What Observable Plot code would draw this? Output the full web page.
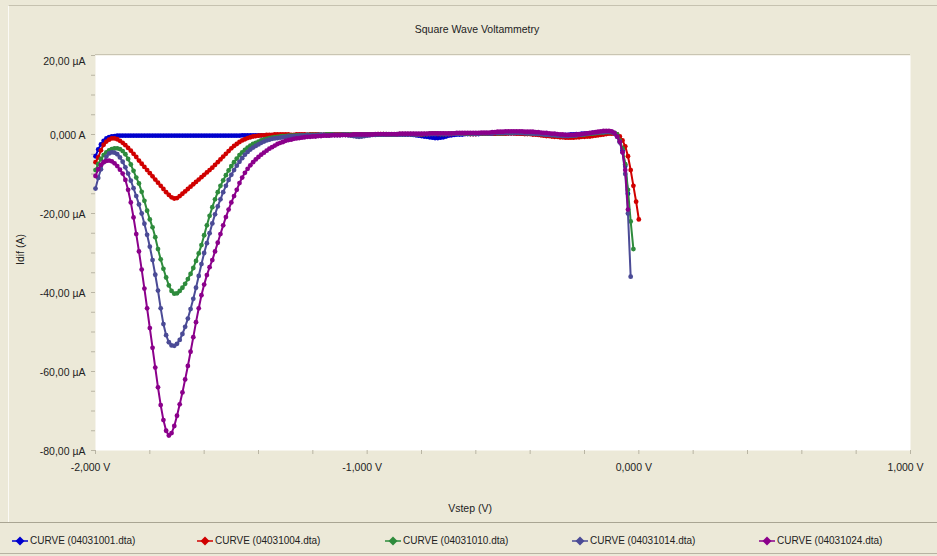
<!DOCTYPE html>
<html>
<head>
<meta charset="utf-8">
<script src="https://cdn.jsdelivr.net/npm/d3@7"></script>
<script src="https://cdn.jsdelivr.net/npm/@observablehq/plot@0.6"></script>
<style>
  html, body { margin: 0; padding: 0; background: #ECE9D8; }
  #page { position: relative; width: 937px; height: 556px; overflow: hidden; background: #ECE9D8;
          font-family: "Liberation Sans", Arial, sans-serif; color: #222; }
  #panel { position: absolute; left: 8px; top: 5px; width: 929px; height: 518px;
           border-top: 1px solid #C6C2B0; border-left: 1px solid #FBFAF5; box-sizing: border-box; }
  #title { position: absolute; left: 17px; top: 23px; width: 920px; text-align: center;
           font-size: 10.5px; line-height: 12px; }
  #chart { position: absolute; left: 0; top: 40px; }
  #legend { position: absolute; left: 0; top: 522px; width: 937px; height: 32px;
            border-top: 1px solid #A9A593; border-bottom: 1px solid #B7B3A2; box-sizing: border-box;
            font-size: 10px; }
  .item { position: absolute; top: 12px; height: 12px; line-height: 12px; white-space: nowrap; }
  .item svg { position: absolute; left: 0; top: 1px; }
  .item span { position: absolute; left: 18px; top: 0; }
</style>
</head>
<body>
<div id="page">
  <div id="panel"></div>
  <div id="title">Square Wave Voltammetry</div>
  <div id="chart"></div>
  <div id="legend"></div>
</div>
<script>
// Curves of the square wave voltammetry run (file names as stored by the potentiostat)
const curveNames = [
  "CURVE (04031001.dta)",
  "CURVE (04031004.dta)",
  "CURVE (04031010.dta)",
  "CURVE (04031014.dta)",
  "CURVE (04031024.dta)"
];
const curveColors = ["#0000CD", "#D00000", "#2E8B3C", "#4B4B96", "#8B008B"];

// Potential sweep: first step and step height, in volts
const vStart = -2.0;
const vStep = 0.01;

// Differential current per step, in µA (one row = 0.1 V)
const iBlue = [
  -5.5, -3.8, -2.5, -1.6, -1.0, -0.7, -0.5, -0.4, -0.3, -0.3,
  -0.3, -0.3, -0.3, -0.3, -0.3, -0.3, -0.3, -0.3, -0.3, -0.3,
  -0.3, -0.3, -0.3, -0.3, -0.3, -0.3, -0.3, -0.3, -0.3, -0.3,
  -0.3, -0.3, -0.3, -0.3, -0.3, -0.3, -0.3, -0.3, -0.3, -0.3,
  -0.3, -0.3, -0.3, -0.3, -0.3, -0.3, -0.3, -0.3, -0.3, -0.3,
  -0.3, -0.3, -0.3, -0.3, -0.2, -0.2, -0.2, -0.2, -0.2, -0.2,
  -0.2, -0.2, -0.2, -0.2, -0.2, -0.2, -0.2, -0.2, -0.2, -0.2,
  -0.2, -0.2, -0.2, -0.2, -0.1, -0.1, -0.1, -0.1, -0.1, -0.1,
  -0.1, -0.1, -0.1, -0.1, -0.1, -0.1, -0.1, -0.1, -0.1, -0.1,
  -0.1, -0.1, -0.1, -0.1, -0.1, -0.2, -0.2, -0.1, -0.1, -0.1,
  -0.1, -0.1, 0.0, 0.0, 0.0, 0.0, 0.0, 0.0, 0.0, 0.0,
  0.0, 0.0, 0.0, 0.0, 0.0, 0.0, 0.0, -0.1, -0.2, -0.3,
  -0.4, -0.5, -0.6, -0.7, -0.8, -0.9, -0.9, -0.8, -0.7, -0.5,
  -0.3, -0.2, -0.1, 0.0, 0.0, 0.0, 0.1, 0.1, 0.1, 0.1,
  0.1, 0.1, 0.2, 0.2, 0.2, 0.2, 0.2, 0.2, 0.3, 0.3,
  0.3, 0.3, 0.3, 0.3, 0.3, 0.3, 0.3, 0.2, 0.2, 0.2,
  0.2, 0.1, 0.1, 0.0, 0.0, -0.1, -0.1, -0.2, -0.2, -0.2,
  -0.2, -0.2, -0.2, -0.1, -0.1, 0.0, 0.0, 0.1, 0.1, 0.2,
  0.2, 0.3, 0.3, 0.4, 0.4, 0.5, 0.5, 0.5, 0.6, 0.6,
  0.5, 0.3, -0.4, -1.8, -4.0, -8.0, -15.0
];
const iRed = [
  -7.0, -5.8, -4.0, -2.6, -1.8, -1.3, -1.0, -1.0, -1.2, -1.6,
  -2.1, -2.7, -3.4, -4.1, -4.9, -5.7, -6.6, -7.4, -8.2, -9.0,
  -9.8, -10.6, -11.4, -12.2, -13.0, -13.8, -14.6, -15.3, -15.9, -16.2,
  -16.1, -15.6, -15.0, -14.4, -13.8, -13.2, -12.6, -12.0, -11.4, -10.8,
  -10.2, -9.6, -9.0, -8.4, -7.7, -7.0, -6.3, -5.6, -4.9, -4.2,
  -3.5, -2.9, -2.4, -1.9, -1.5, -1.2, -0.9, -0.7, -0.5, -0.4,
  -0.3, -0.2, -0.2, -0.1, -0.1, -0.1, 0.0, 0.0, 0.0, 0.0,
  0.0, 0.0, -0.1, -0.1, 0.0, 0.0, 0.0, 0.0, -0.1, 0.0,
  0.0, 0.0, 0.0, -0.1, -0.1, 0.0, 0.0, 0.0, 0.0, 0.0,
  0.0, 0.0, -0.1, -0.1, -0.1, 0.0, 0.0, 0.0, 0.0, 0.0,
  0.0, 0.0, 0.0, 0.0, 0.1, 0.1, 0.1, 0.0, 0.0, 0.0,
  0.0, 0.0, 0.1, 0.1, 0.1, 0.1, 0.1, 0.1, 0.0, 0.0,
  0.0, 0.1, 0.1, 0.1, 0.2, 0.2, 0.1, 0.1, 0.1, 0.1,
  0.1, 0.1, 0.2, 0.2, 0.2, 0.2, 0.2, 0.2, 0.1, 0.1,
  0.1, 0.2, 0.2, 0.2, 0.2, 0.3, 0.3, 0.2, 0.2, 0.2,
  0.2, 0.2, 0.3, 0.3, 0.3, 0.2, 0.2, 0.2, 0.1, 0.1,
  0.1, 0.0, 0.0, -0.1, -0.2, -0.3, -0.4, -0.4, -0.5, -0.6,
  -0.6, -0.7, -0.7, -0.8, -0.8, -0.8, -0.8, -0.7, -0.7, -0.6,
  -0.6, -0.5, -0.5, -0.4, -0.3, -0.2, -0.1, 0.0, 0.1, 0.2,
  0.2, 0.2, 0.0, -0.5, -1.5, -3.0, -5.5, -9.0, -13.0, -17.0,
  -21.5
];
const iGreen = [
  -9.0, -7.5, -6.2, -5.2, -4.5, -4.0, -3.7, -3.5, -3.5, -3.7,
  -4.2, -5.0, -6.2, -7.6, -9.2, -10.9, -12.4, -14.5, -16.8, -19.3,
  -21.5, -23.5, -26.0, -29.0, -31.6, -34.0, -36.2, -38.2, -39.6, -40.3,
  -40.2, -39.6, -38.8, -37.8, -36.6, -35.3, -33.8, -32.0, -30.1, -28.0,
  -25.5, -23.0, -20.6, -18.4, -16.4, -14.6, -13.0, -11.6, -10.3, -9.1,
  -8.0, -7.0, -6.1, -5.2, -4.5, -3.9, -3.3, -2.8, -2.4, -2.1,
  -1.8, -1.5, -1.3, -1.1, -0.9, -0.8, -0.7, -0.6, -0.5, -0.4,
  -0.4, -0.3, -0.3, -0.3, -0.2, -0.2, -0.2, -0.2, -0.1, -0.1,
  -0.1, -0.1, -0.1, -0.1, -0.1, 0.0, 0.0, 0.0, -0.1, -0.1,
  -0.1, 0.0, 0.0, 0.0, 0.0, -0.1, -0.1, 0.0, 0.0, 0.0,
  0.0, 0.0, 0.0, 0.0, 0.0, 0.0, 0.1, 0.1, 0.0, 0.0,
  0.0, 0.1, 0.1, 0.1, 0.1, 0.1, 0.1, 0.1, 0.1, 0.1,
  0.1, 0.1, 0.1, 0.2, 0.2, 0.2, 0.2, 0.1, 0.1, 0.1,
  0.2, 0.2, 0.2, 0.2, 0.3, 0.3, 0.3, 0.2, 0.2, 0.2,
  0.2, 0.3, 0.3, 0.3, 0.3, 0.3, 0.4, 0.4, 0.3, 0.3,
  0.3, 0.4, 0.4, 0.4, 0.5, 0.5, 0.4, 0.4, 0.4, 0.3,
  0.3, 0.3, 0.2, 0.2, 0.1, 0.1, 0.0, 0.0, -0.1, -0.1,
  -0.2, -0.2, -0.3, -0.3, -0.3, -0.3, -0.2, -0.2, -0.1, -0.1,
  0.0, 0.1, 0.2, 0.2, 0.3, 0.4, 0.5, 0.5, 0.6, 0.6,
  0.6, 0.4, 0.0, -1.5, -3.5, -7.5, -14.0, -22.0, -29.0
];
const iSlate = [
  -13.7, -11.0, -8.8, -7.0, -5.6, -4.8, -4.5, -4.6, -5.0, -5.8,
  -6.9, -8.3, -9.9, -11.7, -13.6, -15.6, -17.7, -20.0, -22.6, -25.4,
  -28.4, -31.8, -35.5, -39.5, -44.0, -48.0, -50.8, -52.6, -53.4, -53.5,
  -53.0, -52.0, -50.5, -48.7, -46.6, -44.2, -41.6, -38.8, -35.8, -32.8,
  -30.0, -27.5, -25.0, -22.5, -20.2, -18.2, -16.4, -14.6, -13.0, -11.5,
  -10.2, -9.0, -7.9, -6.9, -6.0, -5.1, -4.4, -3.8, -3.3, -2.9,
  -2.5, -2.1, -1.8, -1.5, -1.3, -1.1, -1.0, -0.9, -0.8, -0.7,
  -0.6, -0.5, -0.5, -0.4, -0.4, -0.3, -0.3, -0.3, -0.2, -0.2,
  -0.2, -0.2, -0.1, -0.1, -0.1, -0.2, -0.2, -0.1, -0.1, -0.1,
  -0.1, -0.1, -0.1, -0.2, -0.3, -0.4, -0.5, -0.6, -0.5, -0.4,
  -0.3, -0.2, -0.1, -0.1, 0.0, 0.0, 0.0, 0.0, 0.0, 0.0,
  0.0, 0.0, 0.0, 0.1, 0.1, 0.1, 0.1, 0.0, 0.0, 0.0,
  0.1, 0.1, 0.1, 0.1, 0.1, 0.1, 0.2, 0.2, 0.2, 0.1,
  0.1, 0.2, 0.2, 0.2, 0.2, 0.2, 0.3, 0.3, 0.3, 0.2,
  0.2, 0.2, 0.3, 0.3, 0.3, 0.3, 0.3, 0.4, 0.4, 0.4,
  0.4, 0.4, 0.5, 0.5, 0.5, 0.4, 0.4, 0.4, 0.3, 0.3,
  0.3, 0.2, 0.2, 0.1, 0.1, 0.0, -0.1, -0.1, -0.2, -0.2,
  -0.3, -0.3, -0.4, -0.4, -0.4, -0.3, -0.3, -0.2, -0.1, 0.0,
  0.1, 0.2, 0.3, 0.4, 0.5, 0.5, 0.6, 0.6, 0.7, 0.7,
  0.6, 0.3, -0.6, -2.0, -4.5, -10.0, -20.0, -36.0
];
const iPurple = [
  -10.5, -8.8, -7.7, -7.0, -6.7, -6.6, -6.8, -7.3, -8.0, -8.9,
  -9.9, -11.5, -14.0, -17.2, -21.0, -25.2, -29.6, -34.2, -39.0, -44.0,
  -49.0, -54.0, -59.0, -64.0, -68.5, -72.3, -75.0, -76.2, -75.6, -73.8,
  -71.2, -68.3, -65.3, -62.0, -58.6, -55.0, -51.3, -47.5, -44.0, -40.7,
  -38.0, -35.6, -33.6, -31.8, -29.6, -27.4, -25.2, -23.0, -20.9, -19.0,
  -17.2, -15.6, -14.0, -12.3, -10.9, -9.7, -8.7, -7.8, -7.0, -6.3,
  -5.7, -5.1, -4.6, -4.1, -3.6, -3.2, -2.8, -2.4, -2.1, -1.9,
  -1.6, -1.4, -1.3, -1.1, -1.0, -0.9, -0.8, -0.7, -0.6, -0.6,
  -0.5, -0.5, -0.4, -0.4, -0.3, -0.3, -0.3, -0.2, -0.2, -0.2,
  -0.2, -0.1, -0.1, -0.1, -0.1, 0.0, 0.0, 0.0, 0.0, 0.0,
  0.0, 0.0, 0.0, 0.1, 0.1, 0.1, 0.1, 0.1, 0.1, 0.1,
  0.1, 0.1, 0.2, 0.2, 0.2, 0.2, 0.2, 0.2, 0.2, 0.2,
  0.2, 0.2, 0.2, 0.3, 0.3, 0.3, 0.3, 0.3, 0.3, 0.3,
  0.3, 0.3, 0.3, 0.4, 0.4, 0.4, 0.4, 0.4, 0.4, 0.4,
  0.4, 0.4, 0.5, 0.5, 0.5, 0.5, 0.6, 0.6, 0.7, 0.7,
  0.7, 0.8, 0.8, 0.8, 0.8, 0.8, 0.8, 0.8, 0.7, 0.7,
  0.7, 0.7, 0.6, 0.6, 0.5, 0.4, 0.4, 0.3, 0.2, 0.2,
  0.1, 0.0, 0.0, -0.1, -0.1, -0.1, -0.1, 0.0, 0.0, 0.1,
  0.2, 0.3, 0.4, 0.5, 0.6, 0.7, 0.8, 0.9, 0.9, 0.9,
  0.8, 0.4, -0.5, -1.8, -4.5, -9.0, -19.0
];

// Axis ticks and their printed labels
const xTicks = [-2, -1, 0, 1];
const xTickLabels = ["-2,000 V", "-1,000 V", "0,000 V", "1,000 V"];
const yTicks = [20, 0, -20, -40, -60, -80];
const yTickLabels = ["20,00 µA", "0,000 A", "-20,00 µA", "-40,00 µA", "-60,00 µA", "-80,00 µA"];
const xMinorTicks = [-2, -1.8, -1.6, -1.4, -1.2, -1, -0.8, -0.6, -0.4, -0.2, 0, 0.2, 0.4, 0.6, 0.8, 1];
const yMinorTicks = [20, 15, 10, 5, 0, -5, -10, -15, -20, -25, -30, -35, -40, -45, -50, -55, -60, -65, -70, -75, -80];

const seriesValues = [iBlue, iRed, iGreen, iSlate, iPurple];
const series = seriesValues.map((values, s) => values.map((i, k) => ({
  curve: curveNames[s],
  v: Math.round((vStart + k * vStep) * 1000) / 1000,
  i
})));

const xLabel = new Map(xTicks.map((t, k) => [t, xTickLabels[k]]));
const yLabel = new Map(yTicks.map((t, k) => [t, yTickLabels[k]]));
const tickColor = "#B9B5A4";

// each curve: a connecting line with a dot on every potential step
const curveMarks = series.flatMap((rows, s) => [
  Plot.line(rows, {x: "v", y: "i", stroke: curveColors[s], strokeWidth: 2}),
  Plot.dot(rows, {x: "v", y: "i", r: 2.4, fill: curveColors[s], stroke: null})
]);

const chart = Plot.plot({
  width: 937,
  height: 480,
  marginTop: 15,
  marginBottom: 70,
  marginLeft: 95,
  marginRight: 27,
  x: {domain: [-2, 1], axis: null},
  y: {domain: [-80, 20], axis: null},
  style: {background: "transparent", fontFamily: "'Liberation Sans', Arial, sans-serif", fontSize: "10.5px", color: "#222"},
  marks: [
    Plot.frame({fill: "white", stroke: null}),
    Plot.ruleY([20], {stroke: "#C9C5B3", strokeWidth: 1, dy: -1}),
    // minor tick marks
    Plot.axisY({ticks: yMinorTicks, tickSize: 4, tickFormat: () => "", stroke: tickColor, label: null}),
    Plot.axisX({ticks: xMinorTicks, tickSize: 4, tickFormat: () => "", stroke: tickColor, label: null}),
    // tick labels
    Plot.axisY({ticks: yTicks.slice(0, 1), tickSize: 0, tickPadding: 10, dy: 6, tickFormat: d => yLabel.get(d), label: null}),
    Plot.axisY({ticks: yTicks.slice(1), tickSize: 0, tickPadding: 10, dy: 1, tickFormat: d => yLabel.get(d), label: null}),
    Plot.axisX({ticks: xTicks, tickSize: 0, tickPadding: 13, dx: -5, tickFormat: d => xLabel.get(d), label: null}),
    // axis titles
    Plot.text(["Vstep (V)"], {frameAnchor: "bottom", dy: 58, dx: -33, lineAnchor: "middle"}),
    Plot.text(["Idif (A)"], {frameAnchor: "left", dx: -75, dy: 12, rotate: -90, lineAnchor: "middle"}),
    ...curveMarks
  ]
});
document.getElementById("chart").append(chart);

// Legend row under the chart
const legendX = [12, 197, 385, 572, 759];
const legend = document.getElementById("legend");
curveNames.forEach((name, s) => {
  const item = document.createElement("div");
  item.className = "item";
  item.style.left = legendX[s] + "px";
  item.innerHTML =
    `<svg width="17" height="10"><line x1="0" y1="5" x2="16" y2="5" stroke="${curveColors[s]}" stroke-width="1.5"/>` +
    `<polygon points="8,0.5 12.5,5 8,9.5 3.5,5" fill="${curveColors[s]}"/></svg>` +
    `<span>${name}</span>`;
  legend.append(item);
});
</script>
</body>
</html>
